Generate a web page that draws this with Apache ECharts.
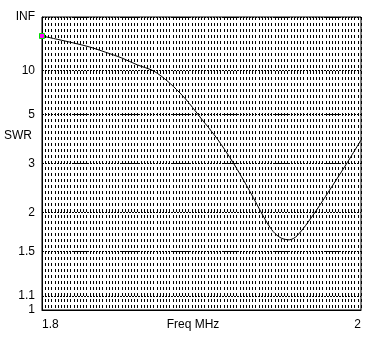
<!DOCTYPE html>
<html>
<head>
<meta charset="utf-8">
<style>
  html, body { margin: 0; padding: 0; background: #fff; }
  #chart { width: 382px; height: 344px; }
</style>
<script src="https://cdn.jsdelivr.net/npm/echarts@6/dist/echarts.min.js"></script>
</head>
<body>
<div id="chart"></div>
<script>
// Sweep frequencies (MHz) and measured SWR
const freqs = [1.80, 1.81, 1.82, 1.83, 1.84, 1.85, 1.86, 1.87, 1.88, 1.89, 1.90,
               1.91, 1.92, 1.93, 1.94, 1.945, 1.95, 1.955, 1.96, 1.97, 1.98, 1.99, 2.00];
const swr = [29.9, 25.1, 21.5, 18.5, 15.6, 13.3, 11.2, 9.85, 7.88, 6.15, 4.75,
             3.80, 3.01, 2.38, 1.89, 1.73, 1.65, 1.63, 1.68, 1.96, 2.37, 2.93, 3.76];

// SWR gridlines / labels on the left scale (INF = total reflection)
const swrTickLabels = ['INF', '10', '5', '3', '2', '1.5', '1.1', '1'];
const swrTickValues = [Infinity, 10, 5, 3, 2, 1.5, 1.1, 1];

// Frequency axis labels
const freqMin = 1.8, freqMax = 2;
const freqLabels = ['1.8', '2'];

// The vertical scale is linear in reflection coefficient |rho| = (S-1)/(S+1)
const toRho = s => (s === Infinity ? 1 : (s - 1) / (s + 1));
const rhoTicks = swrTickValues.map(toRho);
const labelFor = v => {
  for (let i = 0; i < rhoTicks.length; i++) {
    if (Math.abs(rhoTicks[i] - v) < 1e-6) return swrTickLabels[i];
  }
  return '';
};

const lineData = freqs.map((f, i) => {
  const item = { value: [f, toRho(swr[i])] };
  if (i === 0) {
    item.symbol = 'rect';
    item.symbolSize = 5;
    item.itemStyle = { color: '#ff00ff', borderColor: '#00e000', borderWidth: 1 };
  }
  return item;
});

const font = 'Liberation Sans, Arial, sans-serif';
const chart = echarts.init(document.getElementById('chart'), null, { renderer: 'canvas' });
chart.setOption({
  animation: false,
  backgroundColor: '#fff',
  textStyle: { fontFamily: font, color: '#000' },
  grid: {
    left: 42, top: 17, width: 319, height: 293,
    outerBoundsMode: 'none',
    containLabel: false,
    show: true, borderColor: '#000', borderWidth: 1, backgroundColor: 'transparent'
  },
  xAxis: {
    type: 'value',
    min: freqMin, max: freqMax, interval: 0.002,
    axisLine: { show: true, lineStyle: { color: '#000', width: 1 } },
    axisTick: { show: false },
    axisLabel: {
      margin: 9,
      fontFamily: font, fontSize: 12, color: '#000',
      alignMinLabel: 'left', alignMaxLabel: 'right',
      formatter: v => {
        if (Math.abs(v - freqMin) < 1e-9) return freqLabels[0];
        if (Math.abs(v - freqMax) < 1e-9) return freqLabels[1];
        return '';
      }
    },
    splitLine: { show: true, lineStyle: { color: '#000', width: 1, type: [3, 3] } }
  },
  yAxis: {
    type: 'value',
    min: 0, max: 1,
    axisLine: { show: true, lineStyle: { color: '#000', width: 1 } },
    axisTick: { show: false, customValues: rhoTicks },
    axisLabel: {
      customValues: rhoTicks,
      margin: 7,
      fontFamily: font, fontSize: 12, color: '#000',
      formatter: v => labelFor(v)
    },
    splitLine: { show: true, lineStyle: { color: '#000', width: 1, type: [2, 1] } }
  },
  graphic: [
    {
      type: 'text', left: 4, top: 130,
      style: { text: 'SWR', font: '12px ' + font, fill: '#000' }
    },
    {
      type: 'text', x: 193, y: 319,
      style: { text: 'Freq MHz', font: '12px ' + font, fill: '#000', textAlign: 'center', textVerticalAlign: 'top' }
    }
  ],
  series: [{
    type: 'line',
    data: lineData,
    smooth: 0.3,
    showSymbol: true,
    symbol: 'none',
    lineStyle: { color: '#000', width: 1 },
    z: 5
  }]
});
</script>
</body>
</html>
